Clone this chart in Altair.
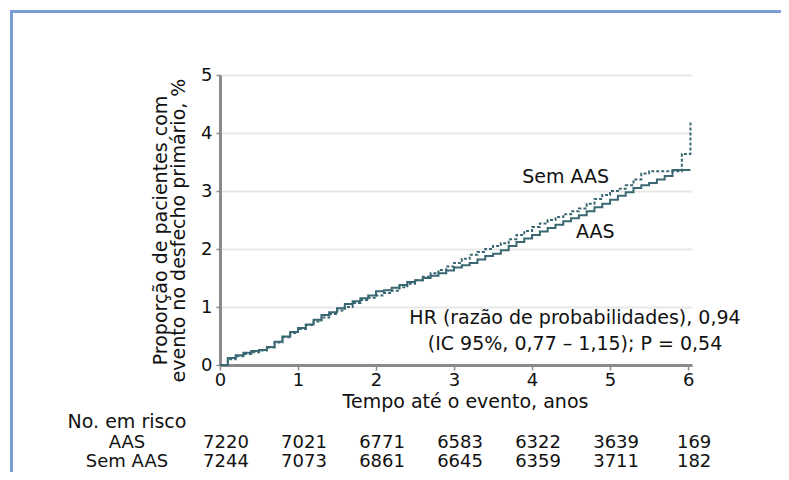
import altair as alt
import pandas as pd

# --- data ---
years = [round(i * 0.1, 1) for i in range(61)]
aas = [0, 0.12, 0.17, 0.21, 0.24, 0.26, 0.31, 0.40, 0.49, 0.57,
       0.64, 0.70, 0.78, 0.86, 0.91, 0.98, 1.05, 1.10, 1.15, 1.20,
       1.27, 1.29, 1.33, 1.38, 1.43, 1.46, 1.50, 1.54, 1.58, 1.63,
       1.68, 1.72, 1.76, 1.82, 1.88, 1.92, 1.98, 2.05, 2.12, 2.18,
       2.24, 2.30, 2.36, 2.42, 2.48, 2.53, 2.58, 2.65, 2.72, 2.78,
       2.85, 2.92, 2.98, 3.05, 3.10, 3.14, 3.20, 3.26, 3.36, 3.36,
       3.36]
sem_aas = [0, 0.10, 0.15, 0.19, 0.22, 0.25, 0.30, 0.39, 0.48, 0.55,
           0.62, 0.69, 0.75, 0.82, 0.88, 0.94, 1.00, 1.07, 1.12, 1.16,
           1.20, 1.24, 1.28, 1.34, 1.40, 1.46, 1.52, 1.58, 1.64, 1.70,
           1.76, 1.83, 1.90, 1.95, 2.00, 2.05, 2.10, 2.17, 2.24, 2.31,
           2.38, 2.44, 2.50, 2.55, 2.60, 2.65, 2.70, 2.78, 2.86, 2.93,
           3.00, 3.04, 3.10, 3.20, 3.30, 3.34, 3.34, 3.34, 3.34, 3.34]
aas_tail_t = [6.03]
aas_tail_v = [3.36]
sem_tail_t = [5.92, 6.03, 6.03]
sem_tail_v = [3.64, 3.64, 4.20]

risk_years = [0, 1, 2, 3, 4, 5, 6]
risk_aas = [7220, 7021, 6771, 6583, 6322, 3639, 169]
risk_sem = [7244, 7073, 6861, 6645, 6359, 3711, 182]

FONT = "DejaVu Sans"
LINE = "#3a6872"
TXT = 19

rows = []
t_a = years + aas_tail_t
v_a = aas + aas_tail_v
for i, (t, v) in enumerate(zip(t_a, v_a)):
    rows.append({"t": t, "v": v, "grupo": "AAS", "ord": i})
t_s = years[:len(sem_aas)] + sem_tail_t
v_s = sem_aas + sem_tail_v
for i, (t, v) in enumerate(zip(t_s, v_s)):
    rows.append({"t": t, "v": v, "grupo": "Sem AAS", "ord": i})
df = pd.DataFrame(rows)

xscale = alt.Scale(domain=[0, 6.05], nice=False)
yscale = alt.Scale(domain=[0, 5], nice=False)

lines = alt.Chart(df).mark_line(interpolate="step-after", strokeWidth=2, color=LINE).encode(
    x=alt.X("t:Q", scale=xscale,
            axis=alt.Axis(values=[0, 1, 2, 3, 4, 5, 6], format="d", grid=False,
                          domainColor="#8a8a8a", domainWidth=3, tickColor="#8a8a8a",
                          tickSize=5, tickWidth=1.5, labelFontSize=18, labelFont=FONT,
                          labelColor="#111", labelPadding=1, labelFlush=False,
                          title="Tempo até o evento, anos", titleFont=FONT,
                          titleFontSize=TXT, titleFontWeight="normal", titleColor="#111",
                          titleX=245, titleY=27, titleAnchor="middle", titleAlign="center",
                          titleBaseline="top")),
    y=alt.Y("v:Q", scale=yscale,
            axis=alt.Axis(values=[0, 1, 2, 3, 4, 5], format="d", grid=True,
                          gridColor="#e8e8e8", gridWidth=2, domainColor="#8a8a8a",
                          domainWidth=3, tickColor="#8a8a8a", tickSize=4, tickWidth=1.5,
                          labelFontSize=18, labelFont=FONT, labelColor="#111",
                          labelPadding=4,
                          title=["Proporção de pacientes com", "evento no desfecho primário, %"],
                          titleFont=FONT, titleFontSize=TXT, titleFontWeight="normal",
                          titleColor="#111", titleLineHeight=18, titleAngle=-90,
                          titleX=-69, titleY=155, titleAlign="center",
                          titleBaseline="top")),
    strokeDash=alt.StrokeDash("grupo:N", legend=None,
                              scale=alt.Scale(domain=["AAS", "Sem AAS"], range=[[1, 0], [3, 2]])),
    order="ord:Q",
)

lab_df = pd.DataFrame({"t": [4.43, 4.81], "v": [3.24, 2.29], "txt": ["Sem AAS", "AAS"]})
labels = alt.Chart(lab_df).mark_text(font=FONT, fontSize=TXT, color="#111").encode(
    x=alt.X("t:Q", scale=xscale), y=alt.Y("v:Q", scale=yscale), text="txt:N")

hr = alt.Chart(pd.DataFrame({"txt": ["HR (razão de probabilidades), 0,94",
                                     "(IC 95%, 0,77 – 1,15); P = 0,54"],
                             "yy": [243, 269]})).mark_text(
    font=FONT, fontSize=TXT, color="#111", align="center").encode(
    x=alt.value(355), y=alt.Y("yy:Q", scale=None), text="txt:N")

risk_df = pd.DataFrame({"t": risk_years * 2,
                        "n": risk_aas + risk_sem,
                        "yy": [368] * 7 + [387] * 7})
risk = alt.Chart(risk_df).mark_text(font=FONT, fontSize=18, color="#111", dx=6).encode(
    x=alt.X("t:Q", scale=xscale), y=alt.Y("yy:Q", scale=None), text="n:Q")

head = alt.Chart(pd.DataFrame({"txt": ["No. em risco"], "yy": [347]})).mark_text(
    font=FONT, fontSize=TXT, color="#111", align="center").encode(
    x=alt.value(-93), y=alt.Y("yy:Q", scale=None), text="txt:N")

side_df = pd.DataFrame({"txt": ["AAS", "Sem AAS"], "yy": [368, 387]})
side = alt.Chart(side_df).mark_text(font=FONT, fontSize=18, color="#111", align="center").encode(
    x=alt.value(-93), y=alt.Y("yy:Q", scale=None), text="txt:N")

frame_top = alt.Chart(pd.DataFrame({"a": [0]})).mark_rule(color="#7d9cd5", strokeWidth=3).encode(
    x=alt.value(-208.5), x2=alt.value(600), y=alt.value(-63.5))
frame_left = alt.Chart(pd.DataFrame({"a": [0]})).mark_rule(color="#7d9cd5", strokeWidth=3).encode(
    x=alt.value(-208.5), y=alt.value(-65), y2=alt.value(400))

chart = alt.layer(lines, labels, hr, risk, head, side, frame_top, frame_left).properties(
    width=472, height=290,
    autosize=alt.AutoSizeParams(type="none"),
    padding={"left": 212, "top": 67, "right": 89, "bottom": 107},
).configure_view(stroke=None)

chart.save("out.html", embed_options={"renderer": "svg", "actions": False})
